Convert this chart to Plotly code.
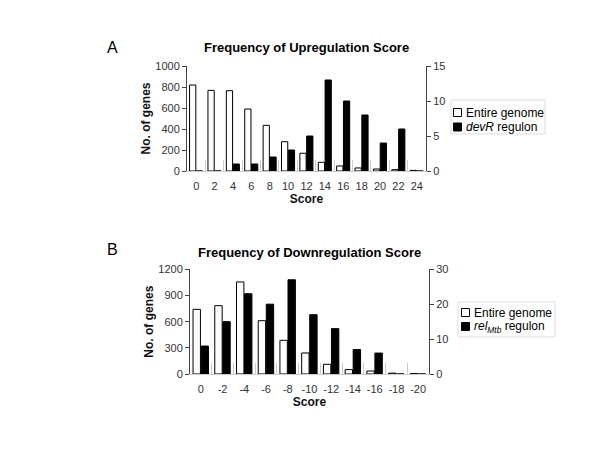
import plotly.graph_objects as go

# ---- data ----
up_scores = ["0", "2", "4", "6", "8", "10", "12", "14", "16", "18", "20", "22", "24"]
up_genome = [819, 768, 765, 590, 435, 279, 169, 83, 48, 29, 19, 13, 6]
up_devr = [0, 0, 1, 1, 2, 3, 5, 13, 10, 8, 4, 6, 0]

down_scores = ["0", "-2", "-4", "-6", "-8", "-10", "-12", "-14", "-16", "-18", "-20"]
down_genome = [741, 783, 1055, 611, 386, 241, 111, 50, 34, 10, 5]
down_relmtb = [8, 15, 23, 20, 27, 17, 13, 7, 6, 0, 0]

up_left_ticks = [0, 200, 400, 600, 800, 1000]
up_right_ticks = [0, 5, 10, 15]
down_left_ticks = [0, 300, 600, 900, 1200]
down_right_ticks = [0, 10, 20, 30]

FONT = "Liberation Sans, Arial, sans-serif"
W, H = 600, 450


def px(x):
    return x / W


def py(y):
    return (H - y) / H


fig = go.Figure()

bar_w = 0.34
white_style = dict(marker=dict(color="white", line=dict(color="black", width=1)))
black_style = dict(marker=dict(color="black", line=dict(color="black", width=1)))

fig.add_trace(go.Bar(x=up_scores, y=up_genome, name="Entire genome", xaxis="x", yaxis="y",
                     width=bar_w, offset=-0.36, showlegend=False, **white_style))
fig.add_trace(go.Bar(x=up_scores, y=up_devr, name="devR regulon", xaxis="x", yaxis="y2",
                     width=bar_w, offset=0.01, showlegend=False, **black_style))
fig.add_trace(go.Bar(x=down_scores, y=down_genome, name="Entire genome", xaxis="x2", yaxis="y3",
                     width=bar_w, offset=-0.36, showlegend=False, **white_style))
fig.add_trace(go.Bar(x=down_scores, y=down_relmtb, name="relMtb regulon", xaxis="x2", yaxis="y4",
                     width=bar_w, offset=0.01, showlegend=False, **black_style))

axis_common = dict(showline=True, linecolor="#444", linewidth=1, ticks="outside", ticklen=4,
                   tickcolor="#444", showgrid=False, zeroline=False, automargin=False,
                   tickfont=dict(family=FONT, size=11, color="#333"))
xaxis_common = dict(showline=True, linecolor="#ccc", linewidth=1, ticks="inside",
                    tickson="boundaries", ticklen=11, tickcolor="#ccc", showgrid=False,
                    zeroline=False, type="category", tickangle=0, automargin=False,
                    ticklabelstandoff=5,
                    tickfont=dict(family=FONT, size=11, color="#333"),
                    title=dict(text="<b>Score</b>", font=dict(family=FONT, size=12, color="#111"),
                               standoff=2))
ytitle = dict(text="<b>No. of genes</b>", font=dict(family=FONT, size=12, color="#111"), standoff=2)

fig.update_layout(
    width=W, height=H,
    margin=dict(l=0, r=0, t=0, b=0, autoexpand=False),
    paper_bgcolor="white", plot_bgcolor="white",
    barmode="overlay", showlegend=False,
    xaxis=dict(domain=[px(187), px(426)], anchor="y", **xaxis_common),
    yaxis=dict(domain=[py(171), py(66)], anchor="x", range=[0, 1000], tickvals=up_left_ticks,
               title=ytitle, **axis_common),
    yaxis2=dict(overlaying="y", side="right", anchor="x", range=[0, 15], tickvals=up_right_ticks,
                **axis_common),
    xaxis2=dict(domain=[px(190), px(429)], anchor="y3", **xaxis_common),
    yaxis3=dict(domain=[py(374), py(269.3)], anchor="x2", range=[0, 1200], tickvals=down_left_ticks,
                title=ytitle, **axis_common),
    yaxis4=dict(overlaying="y3", side="right", anchor="x2", range=[0, 30], tickvals=down_right_ticks,
                **axis_common),
)

annotations = [
    dict(text="<b>Frequency of Upregulation Score</b>", x=px(306.5), y=py(47)),
    dict(text="<b>Frequency of Downregulation Score</b>", x=px(309.5), y=py(252)),
]
for a in annotations:
    a.update(xref="paper", yref="paper", showarrow=False, xanchor="center", yanchor="middle",
             font=dict(family=FONT, size=13, color="black"))
    fig.add_annotation(**a)

for letter, x, y in [("A", 112, 47), ("B", 112, 249)]:
    fig.add_annotation(text=letter, x=px(x), y=py(y), xref="paper", yref="paper", showarrow=False,
                       xanchor="center", yanchor="middle", font=dict(family=FONT, size=16, color="black"))

# ---- legends (drawn as boxes + text) ----
def legend(box, rows, labels):
    x0, y0, x1, y1 = box
    fig.add_shape(type="rect", xref="paper", yref="paper", x0=px(x0), x1=px(x1), y0=py(y1), y1=py(y0),
                  line=dict(color="#ddd", width=1), fillcolor="white")
    for (sx, cy), (label, fill) in zip(rows, labels):
        fig.add_shape(type="rect", xref="paper", yref="paper", x0=px(sx), x1=px(sx + 8),
                      y0=py(cy + 4), y1=py(cy - 4), line=dict(color="black", width=1), fillcolor=fill)
        fig.add_annotation(text=label, x=px(sx + 10), y=py(cy), xref="paper", yref="paper",
                           showarrow=False, xanchor="left", yanchor="middle",
                           font=dict(family=FONT, size=12, color="black"))


legend((451, 100, 545, 134), [(453.5, 112.5), (453.5, 127)],
       [("Entire genome", "white"), ("<i>devR</i> regulon", "black")])
legend((458, 302, 555, 337), [(461.5, 312.5), (461.5, 326.5)],
       [("Entire genome", "white"), ("<i>rel</i><sub><i>Mtb</i></sub> regulon", "black")])

fig.write_html("out.html", config={"displayModeBar": False},
               post_script="document.body.style.margin='0px';")
